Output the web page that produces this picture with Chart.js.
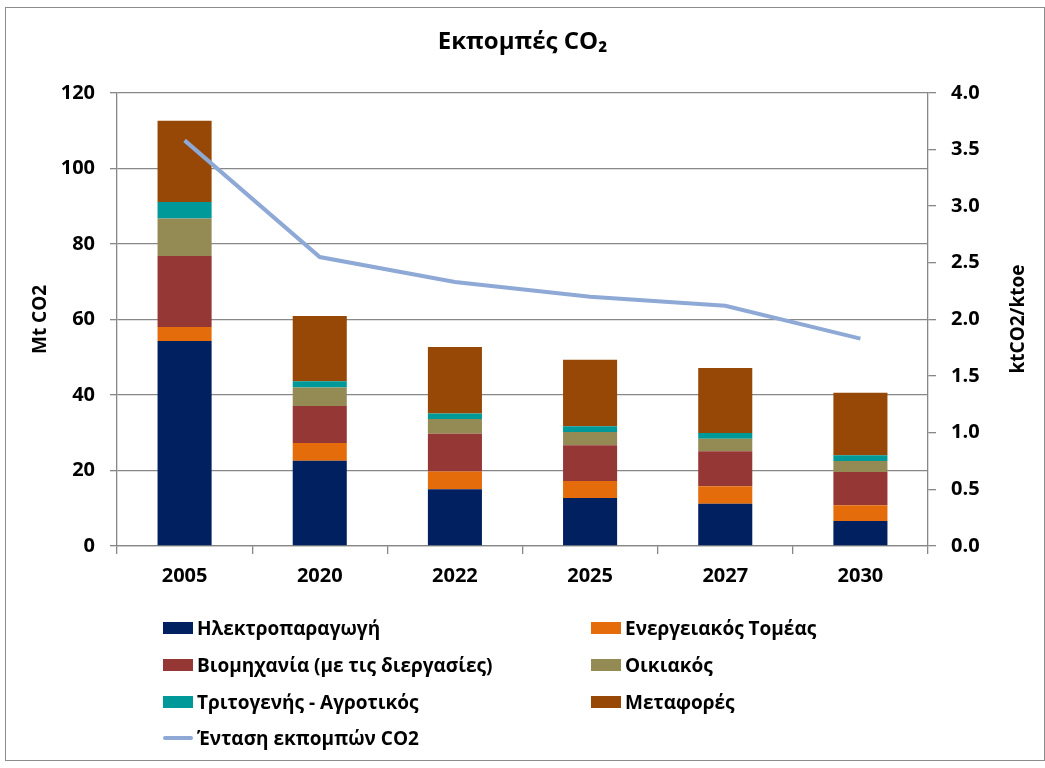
<!DOCTYPE html>
<html>
<head>
<meta charset="utf-8">
<script src="https://cdn.jsdelivr.net/npm/chart.js@4.4.1/dist/chart.umd.min.js"></script>
<style>
  html, body { margin: 0; padding: 0; background: #fff; }
  #wrap { position: relative; width: 1045px; height: 768px; }
  #frame { position: absolute; left: 5px; top: 7px; width: 1040px; height: 754px; border: 1.5px solid #8c8c8c; box-sizing: border-box; pointer-events: none; }
  canvas { position: absolute; left: 0; top: 0; }
  .lg { position: absolute; font-family: "Open Sans", sans-serif; font-weight: bold; font-size: 19px; color: #000; white-space: nowrap; display: flex; align-items: center; height: 24px; }
  .sw { width: 30px; height: 12px; margin-right: 4px; }
  .ln { width: 30px; height: 4px; border-radius: 2px; margin-right: 4px; }
  #rtitle { position: absolute; left: 1017px; top: 319px; font-family: "Open Sans", sans-serif; font-weight: bold; font-size: 19px; color: #000; white-space: nowrap; transform: translate(-50%, -50%) rotate(-90deg); }
</style>
</head>
<body>
<div id="wrap">
  <canvas id="c" width="1045" height="768"></canvas>
  <div id="frame"></div>
  <div id="legend"></div>
  <div id="rtitle">ktCO2/ktoe</div>
</div>
<script>
const categories = ['2005', '2020', '2022', '2025', '2027', '2030'];
const electricity = [54.3, 22.6, 15.0, 12.7, 11.2, 6.6];
const energySector = [3.7, 4.7, 4.7, 4.5, 4.6, 4.2];
const industry = [18.8, 9.8, 10.0, 9.5, 9.3, 8.8];
const residential = [9.9, 4.9, 3.9, 3.5, 3.3, 2.9];
const tertiary = [4.4, 1.6, 1.5, 1.5, 1.5, 1.5];
const transport = [21.5, 17.3, 17.6, 17.6, 17.2, 16.6];
const intensity = [3.58, 2.55, 2.33, 2.20, 2.12, 1.83];

const seriesNames = ['Ηλεκτροπαραγωγή', 'Ενεργειακός Τομέας', 'Βιομηχανία (με τις διεργασίες)', 'Οικιακός', 'Τριτογενής - Αγροτικός', 'Μεταφορές'];
const lineName = 'Ένταση εκπομπών CO2';
const colors = ['#002060', '#E46C0A', '#953735', '#948A54', '#009999', '#974806'];
const lineColor = '#8EA9D5';
const barData = [electricity, energySector, industry, residential, tertiary, transport];

const gridColor = '#878787';
const tickFont = { family: 'Open Sans', weight: 'bold', size: 20 };

const datasets = barData.map((d, i) => ({
  type: 'bar', label: seriesNames[i], data: d, backgroundColor: colors[i],
  borderWidth: 0, yAxisID: 'y', stack: 's', order: 1,
  barPercentage: 0.4, categoryPercentage: 1.0
}));
datasets.push({
  type: 'line', label: lineName, data: intensity, borderColor: lineColor,
  borderWidth: 4, pointRadius: 0, yAxisID: 'y1', order: 0, tension: 0, fill: false
});

new Chart(document.getElementById('c'), {
  data: { labels: categories, datasets },
  options: {
    responsive: false, animation: false,
    layout: { padding: { left: 0, right: 0, top: 0, bottom: 172 } },
    plugins: {
      legend: { display: false },
      tooltip: { enabled: false },
      title: { display: true, text: 'Εκπομπές CO₂', color: '#000',
        font: { family: 'Open Sans', weight: 'bold', size: 24, lineHeight: 1.2 },
        padding: { top: 28, bottom: 36 } }
    },
    scales: {
      x: {
        stacked: true,
        grid: { display: true, drawOnChartArea: false, drawTicks: true, tickLength: 8, color: gridColor, lineWidth: 1.3, offset: true },
        border: { display: true, color: gridColor, width: 1.3 },
        ticks: { color: '#000', font: tickFont, padding: 10 },
        afterFit: (s) => { s.height = 50; }
      },
      y: {
        position: 'left', stacked: true, min: 0, max: 120,
        ticks: { stepSize: 20, color: '#000', font: tickFont, padding: 15 },
        grid: { color: gridColor, lineWidth: 1.3, tickLength: 7 },
        border: { display: true, color: gridColor, width: 1.3 },
        title: { display: true, text: 'Mt CO2', color: '#000', font: { family: 'Open Sans', weight: 'bold', size: 19, lineHeight: 1.2 }, padding: { top: 29, bottom: 0 } },
        afterFit: (s) => { s.width = 117; }
      },
      y1: {
        position: 'right', stacked: false, min: 0, max: 4,
        ticks: { stepSize: 0.5, color: '#000', font: tickFont, padding: 15, callback: (v) => Number(v).toFixed(1) },
        grid: { drawOnChartArea: false, drawTicks: true, tickLength: 8, color: gridColor, lineWidth: 1.3 },
        border: { display: true, color: gridColor, width: 1.3 },
        title: { display: false },
        afterFit: (s) => { s.width = 117; }
      }
    }
  }
});

// HTML legend built from the series arrays
const legend = document.getElementById('legend');
const rowsY = [628, 665, 702, 738];
const colsX = [163, 591];
seriesNames.forEach((name, i) => {
  const el = document.createElement('div');
  el.className = 'lg';
  el.style.left = colsX[i % 2] + 'px';
  el.style.top = (rowsY[Math.floor(i / 2)] - 12) + 'px';
  el.innerHTML = '<span class="sw" style="background:' + colors[i] + '"></span>';
  el.appendChild(document.createTextNode(name));
  legend.appendChild(el);
});
const le = document.createElement('div');
le.className = 'lg';
le.style.left = colsX[0] + 'px';
le.style.top = (rowsY[3] - 12) + 'px';
le.innerHTML = '<span class="ln" style="background:' + lineColor + '"></span>';
le.appendChild(document.createTextNode(lineName));
legend.appendChild(le);
</script>
</body>
</html>
